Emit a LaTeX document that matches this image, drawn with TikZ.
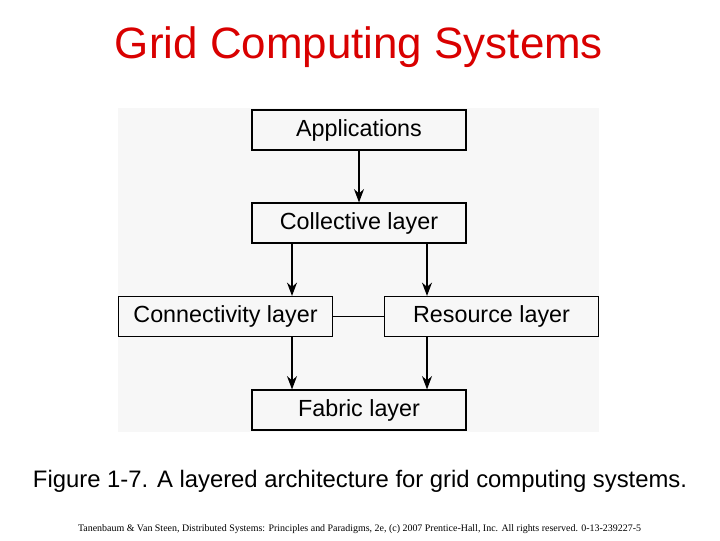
\documentclass[tikz,border=0pt]{standalone}
\usepackage{fontspec}
\setmainfont{Liberation Sans}
\newfontfamily\footserif{Liberation Serif}
\usetikzlibrary{arrows.meta}
\begin{document}
\begin{tikzpicture}[x=0.75pt,y=-0.75pt,
  box/.style={draw,line width=0.9pt,minimum width=214*0.75pt,minimum height=40*0.75pt,inner sep=0pt,font=\fontsize{17.5}{20}\selectfont},
  arr/.style={-{Stealth[length=10pt,width=7.5pt]},line width=0.9pt}]
\useasboundingbox (0,0) rectangle (720,540);
\fill[white] (0,0) rectangle (720,540);
\fill[black!3] (118,108) rectangle (599,432);
\node[text=red!85!black,font=\fontsize{28}{32}\selectfont] (title) at (359,47) {\resizebox{488\dimexpr0.75pt\relax}{!}{Grid Computing Systems}};
\node[box] (app) at (359,130) {Applications};
\node[box] (col) at (359,223) {Collective layer};
\node[box] (con) at (225.5,316.5) {Connectivity layer};
\node[box] (res) at (491.5,316.5) {Resource layer};
\node[box] (fab) at (359,410) {Fabric layer};
\draw[arr] (app) -- (col);
\draw[arr] (col.south -| 292,0) -- (con.north -| 292,0);
\draw[arr] (col.south -| 427,0) -- (res.north -| 427,0);
\draw[arr] (con.south -| 292,0) -- (fab.north -| 292,0);
\draw[arr] (res.south -| 427,0) -- (fab.north -| 427,0);
\draw[line width=0.9pt] (con) -- (res);
\node (cap) at (360,481) {\resizebox{654\dimexpr0.75pt\relax}{!}{Figure 1-7. A layered architecture for grid computing systems.}};
\node[font=\footserif] (foot) at (359.5,529) {\resizebox{563\dimexpr0.75pt\relax}{!}{Tanenbaum \& Van Steen, Distributed Systems: Principles and Paradigms, 2e, (c) 2007 Prentice-Hall, Inc. All rights reserved. 0-13-239227-5}};
\end{tikzpicture}
\end{document}
